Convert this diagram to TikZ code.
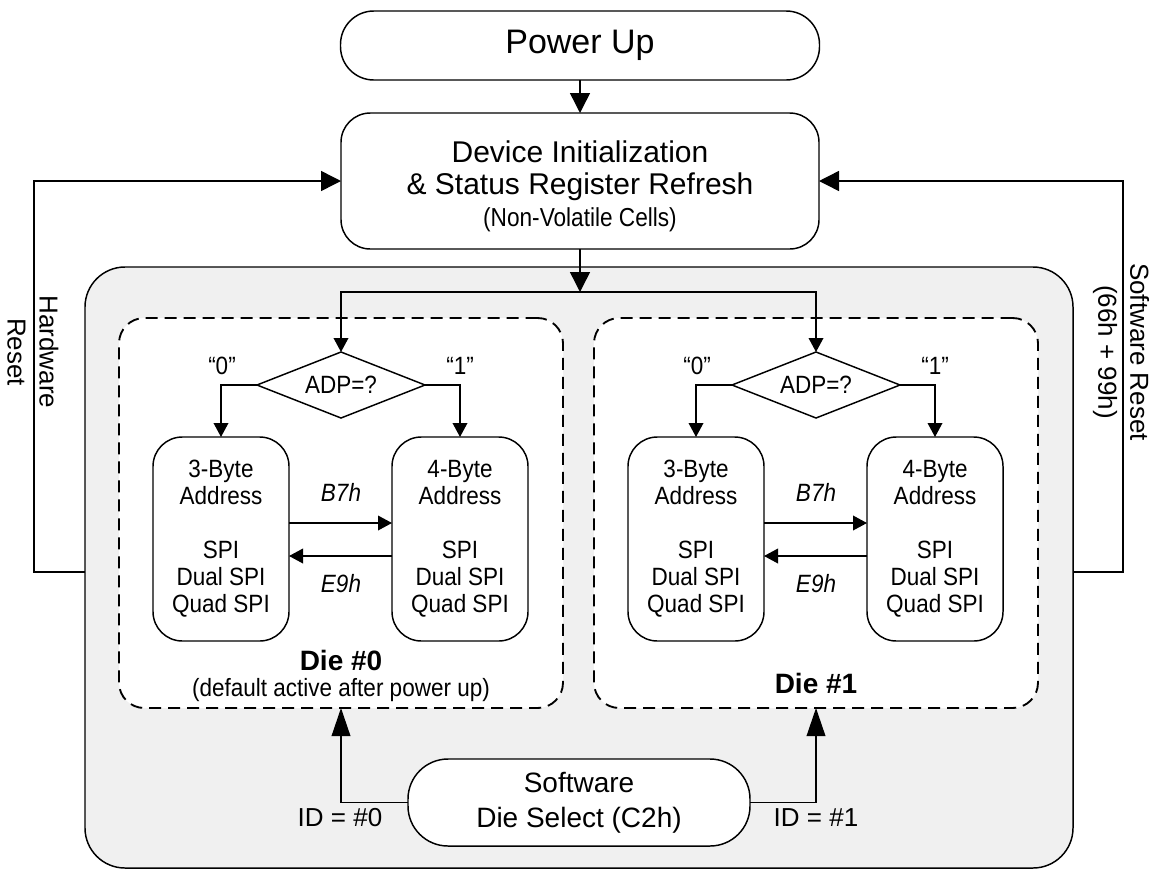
\documentclass[tikz,border=0pt]{standalone}
\usepackage{fontspec}
\setmainfont{Liberation Sans}
\newfontfamily\condfont[FakeStretch=0.9]{Liberation Sans}
\newfontfamily\narrowfont[FakeStretch=0.87]{Liberation Sans}
\usetikzlibrary{arrows.meta,shapes.geometric}
\definecolor{chipgrey}{RGB}{240,240,240}

\tikzset{
  every node/.style={inner sep=0pt, outer sep=0pt},
  wire/.style={line width=1.1pt, draw=black},
  bigarr/.style={wire, -{Triangle[length=15pt,width=15pt]}},
  midarr/.style={wire, -{Triangle[length=10.5pt,width=11pt]}},
  tallarr/.style={wire, -{Triangle[length=21pt,width=14pt]}},
  roundbox/.style={draw, line width=1.1pt, fill=white, align=center},
  diebox/.style={draw, line width=1.4pt, dash pattern=on 9pt off 5.25pt, fill=white,
    rounded corners=19pt, minimum width=333pt, minimum height=292.5pt},
  small/.style={font=\condfont\fontsize{18.75pt}{20.25pt}\selectfont},
  addrbox/.style={roundbox, small, rounded corners=22pt, minimum width=102pt, minimum height=153pt},
  decision/.style={diamond, aspect=2.6, draw, line width=1.1pt, fill=white, small,
    minimum width=126pt, minimum height=49.5pt},
  cmd/.style={font=\condfont\itshape\fontsize{18.75pt}{20.25pt}\selectfont},
  dielabel/.style={font=\bfseries\fontsize{21pt}{24pt}\selectfont},
  plain/.style={font=\fontsize{19.5pt}{24pt}\selectfont},
  side/.style={rotate=-90, align=center, plain},
}

\begin{document}
\begin{tikzpicture}[x=0.75pt,y=-0.75pt]
\useasboundingbox (0,0) rectangle (1155,875);

% chip outline and the two dies
\node[draw, line width=1.1pt, fill=chipgrey, rounded corners=30pt,
      minimum width=741pt, minimum height=450.75pt] (chip) at (579,567.5) {};
\node[diebox] (die0) at (341,513) {};
\node[diebox] (die1) at (816,513) {};

% start-up sequence
\node[roundbox, rounded corners=25pt, minimum width=359.25pt, minimum height=51.75pt,
      font=\fontsize{25.5pt}{30pt}\selectfont] (pwr) at (580,45.5) {Power Up};
\node[roundbox, rounded corners=22pt, minimum width=358.5pt, minimum height=102pt,
      font=\fontsize{22.5pt}{24pt}\selectfont] (init) at (580,181)
  {\rule{0pt}{24pt}Device Initialization\\ \& Status Register Refresh\\
   {\narrowfont\fontsize{19.5pt}{24pt}\selectfont (Non-Volatile Cells)}};
\draw[bigarr] (pwr) -- (init);

\coordinate (split) at (580,292);
\draw[bigarr] (init.south) -- (split);

% per-die address mode logic
\foreach \d/\cx in {0/341,1/816} {
  \node[decision] (adp\d) at (\cx,385) {ADP=?};
  \node[small] (qz\d) at ({\cx-119},366) {“0”};
  \node[small] (qo\d) at ({\cx+119},366) {“1”};
  \node[addrbox] (a3d\d) at ({\cx-120},539) {3-Byte\\Address\\[20.25pt]SPI\\Dual SPI\\Quad SPI};
  \node[addrbox] (a4d\d) at ({\cx+119},539) {4-Byte\\Address\\[20.25pt]SPI\\Dual SPI\\Quad SPI};
  \node[cmd] (b7d\d) at (\cx,492) {B7h};
  \node[cmd] (e9d\d) at (\cx,584) {E9h};
  \draw[midarr] (split) -| (adp\d.north);
  \draw[midarr] (adp\d.west) -| (a3d\d.north);
  \draw[midarr] (adp\d.east) -| (a4d\d.north);
  \draw[midarr] ([yshift=12pt]a3d\d.east) -- ([yshift=12pt]a4d\d.west);
  \draw[midarr] ([yshift=-12.75pt]a4d\d.west) -- ([yshift=-12.75pt]a3d\d.east);
}
\node[dielabel] (n0) at (341,660) {Die \#0};
\node[small] (note0) at (341,690) {(default active after power up)};
\node[dielabel] (n1) at (816,683) {Die \#1};

% die selection
\node[roundbox, rounded corners=30pt, minimum width=256.5pt, minimum height=65.25pt,
      font=\fontsize{21pt}{26.25pt}\selectfont] (sel) at (579,802.5)
  {Software\\Die Select (C2h)};
\draw[tallarr] (sel.west) -| (die0.south);
\draw[tallarr] (sel.east) -| (die1.south);
\node[plain] (id0) at (340,817.5) {ID = \#0};
\node[plain] (id1) at (816,817.5) {ID = \#1};

% reset paths
\coordinate (hw) at (34,572);
\draw[bigarr] (chip.west |- hw) -- (hw) |- (init.west);
\node[side] (hwlbl) at (33,352) {Hardware\\Reset};
\coordinate (sw) at (1123,572);
\draw[bigarr] (chip.east |- sw) -- (sw) |- (init.east);
\node[side] (swlbl) at (1121,352) {Software Reset\\(66h + 99h)};
\end{tikzpicture}
\end{document}
